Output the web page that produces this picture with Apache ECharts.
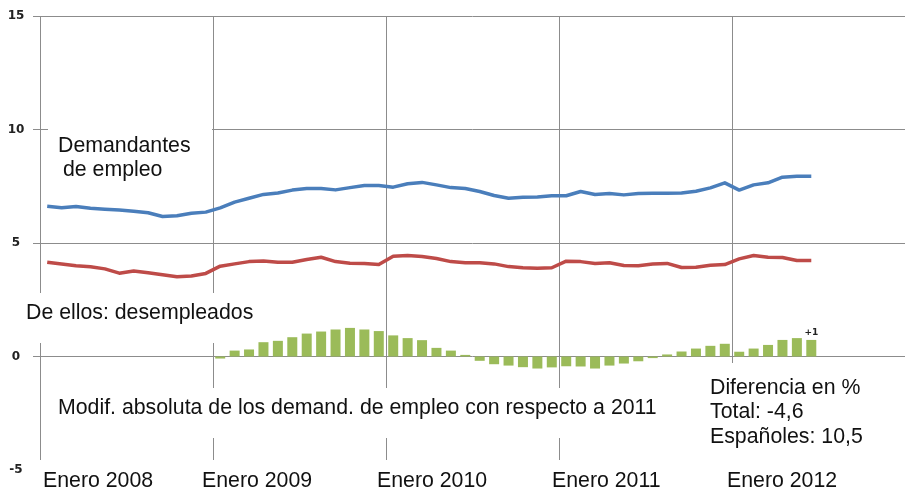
<!DOCTYPE html>
<html><head><meta charset="utf-8">
<script src="https://cdn.jsdelivr.net/npm/echarts@6/dist/echarts.min.js"></script>
<style>html,body{margin:0;padding:0;background:#fff}#c{width:905px;height:491px}</style>
</head><body><div id="c"></div>
<script>
// ---- data ----
const years = ['2008', '2009', '2010', '2011', '2012'];
const meses = ['Ene', 'Feb', 'Mar', 'Abr', 'May', 'Jun', 'Jul', 'Ago', 'Sep', 'Oct', 'Nov', 'Dic'];
const categories = [];
years.forEach(function (y) { meses.forEach(function (m) { categories.push(m + ' ' + y); }); });

const yearLabels = ['Enero 2008', 'Enero 2009', 'Enero 2010', 'Enero 2011', 'Enero 2012'];

// Demandantes de empleo (blue)
const demandantes = [
  6.62, 6.55, 6.61, 6.53, 6.49, 6.45, 6.40, 6.33, 6.17, 6.20, 6.31, 6.36,
  6.55, 6.80, 6.97, 7.14, 7.20, 7.33, 7.40, 7.40, 7.34, 7.44, 7.53, 7.53,
  7.46, 7.61, 7.67, 7.56, 7.44, 7.40, 7.27, 7.09, 6.97, 7.02, 7.03, 7.08,
  7.08, 7.27, 7.14, 7.18, 7.12, 7.18, 7.19, 7.19, 7.20, 7.28, 7.43, 7.65,
  7.33, 7.56, 7.65, 7.90, 7.94, 7.94
];

// De ellos: desempleados (red)
const desempleados = [
  4.15, 4.07, 4.00, 3.95, 3.86, 3.67, 3.77, 3.69, 3.60, 3.51, 3.55, 3.66,
  3.98, 4.08, 4.18, 4.21, 4.15, 4.15, 4.27, 4.37, 4.18, 4.11, 4.10, 4.05,
  4.42, 4.45, 4.41, 4.32, 4.18, 4.13, 4.13, 4.08, 3.96, 3.91, 3.89, 3.91,
  4.20, 4.18, 4.10, 4.13, 4.01, 4.00, 4.07, 4.10, 3.92, 3.93, 4.02, 4.05,
  4.30, 4.45, 4.37, 4.36, 4.23, 4.23
];

// Modif. absoluta con respecto al año anterior (green bars)
const modificacion = [
  null, null, null, null, null, null, null, null, null, null, null, null,
  -0.09, 0.26, 0.31, 0.63, 0.69, 0.85, 1.01, 1.10, 1.19, 1.26, 1.19, 1.12,
  0.93, 0.81, 0.72, 0.38, 0.26, 0.07, -0.19, -0.34, -0.40, -0.47, -0.53, -0.48,
  -0.43, -0.44, -0.53, -0.40, -0.31, -0.21, -0.07, 0.09, 0.22, 0.35, 0.47, 0.56,
  0.21, 0.35, 0.51, 0.73, 0.81, 0.73
];
const lastBarLabel = '+1';

// ---- chart ----
const gridColor = '#8c8c8c';
const txtFont = 'Liberation Sans, Arial, sans-serif';
const txtSize = 21.3;
const chart = echarts.init(document.getElementById('c'), null, { renderer: 'canvas' });

const barData = modificacion.map(function (v, i) {
  if (i === modificacion.length - 1) {
    return { value: v, label: { show: true, position: 'top', distance: 3, formatter: lastBarLabel,
      fontFamily: 'DejaVu Sans', fontWeight: 'bold', fontSize: 9, color: '#222' } };
  }
  return v;
});

function rect(x, y, w, h) {
  return { type: 'rect', z: 1, silent: true, shape: { x: x, y: y, width: w, height: h }, style: { fill: '#fff' } };
}
function txt(s, x, y) {
  return { type: 'text', z: 10, silent: true, x: x, y: y,
    style: { text: s, fontFamily: txtFont, fontSize: txtSize, fill: '#111', verticalAlign: 'middle', align: 'left' } };
}

chart.setOption({
  animation: false,
  grid: [
    { left: 40, top: 16, width: 870, height: 454 },
    { left: 27, top: 459, width: 880, height: 1 }
  ],
  xAxis: [
    { type: 'category', gridIndex: 0, data: categories, boundaryGap: true,
      axisLine: { show: false }, axisTick: { show: false }, axisLabel: { show: false },
      splitLine: { show: true, interval: 11, lineStyle: { color: gridColor, width: 1 } } },
    { type: 'value', gridIndex: 1, min: 0, max: 5, interval: 1, z: 5,
      axisLine: { show: false }, axisTick: { show: false }, splitLine: { show: false },
      axisLabel: { margin: 11, align: 'left', fontFamily: txtFont, fontSize: txtSize, color: '#111',
        formatter: function (v) { return v === 0 ? '{p|' + yearLabels[0] + '}' : (yearLabels[v] || ''); },
        rich: { p: { padding: [0, 0, 0, 16], fontFamily: txtFont, fontSize: txtSize, color: '#111' } } } }
  ],
  yAxis: [
    { type: 'value', gridIndex: 0, min: -5, max: 15, interval: 5,
      axisLine: { show: false },
      axisTick: { show: true, length: 7, lineStyle: { color: gridColor } },
      splitLine: { show: true, lineStyle: { color: gridColor, width: 1 } },
      axisLabel: { margin: 24, align: 'center', fontFamily: 'DejaVu Sans', fontWeight: 'bold', fontSize: 12, color: '#222' } },
    { type: 'value', gridIndex: 1, show: false }
  ],
  series: [
    { type: 'bar', xAxisIndex: 0, yAxisIndex: 0, data: barData, barWidth: 10,
      itemStyle: { color: '#9bbb59' } },
    { type: 'line', xAxisIndex: 0, yAxisIndex: 0, data: desempleados, symbol: 'none',
      lineStyle: { color: '#be4b48', width: 3.5, join: 'round' } },
    { type: 'line', xAxisIndex: 0, yAxisIndex: 0, data: demandantes, symbol: 'none',
      lineStyle: { color: '#4a7ebb', width: 3.5, join: 'round' } }
  ],
  graphic: [
    rect(48, 126, 164, 62),
    rect(20, 293, 240, 50),
    rect(50, 388, 620, 50),
    rect(700, 363, 180, 97),
    rect(25, 460, 880, 31),
    txt('Demandantes', 58, 146),
    txt('de empleo', 63, 170),
    txt('De ellos: desempleados', 26, 313),
    txt('Modif. absoluta de los demand. de empleo con respecto a 2011', 58, 408),
    txt('Diferencia en %', 710, 388),
    txt('Total: -4,6', 710, 412),
    txt('Españoles: 10,5', 710, 437)
  ]
});
</script>
</body></html>
